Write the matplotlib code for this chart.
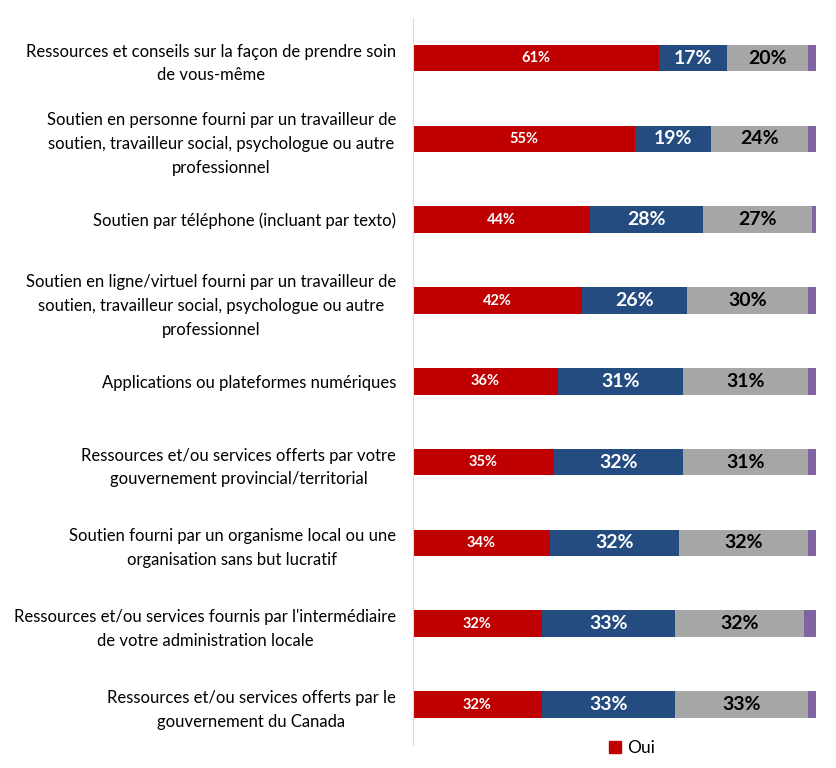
import numpy as np
import matplotlib
matplotlib.use("Agg")
import matplotlib.pyplot as plt
from matplotlib.patches import Patch

plt.rcParams['font.family'] = ['Lato', 'DejaVu Sans']

categories = [
    "Ressources et conseils sur la façon de prendre soin\nde vous-même",
    "Soutien en personne fourni par un travailleur de\nsoutien, travailleur social, psychologue ou autre\nprofessionnel",
    "Soutien par téléphone (incluant par texto)",
    "Soutien en ligne/virtuel fourni par un travailleur de\nsoutien, travailleur social, psychologue ou autre\nprofessionnel",
    "Applications ou plateformes numériques",
    "Ressources et/ou services offerts par votre\ngouvernement provincial/territorial",
    "Soutien fourni par un organisme local ou une\norganisation sans but lucratif",
    "Ressources et/ou services fournis par l'intermédiaire\nde votre administration locale",
    "Ressources et/ou services offerts par le\ngouvernement du Canada",
]
oui = [61, 55, 44, 42, 36, 35, 34, 32, 32]
serie2 = [17, 19, 28, 26, 31, 32, 32, 33, 33]
serie3 = [20, 24, 27, 30, 31, 31, 32, 32, 33]
serie4 = [2, 2, 1, 2, 2, 2, 2, 3, 2]

c_red = "#C00000"
c_blue = "#244C80"
c_gray = "#A6A6A6"
c_purple = "#8064A2"

fig = plt.figure(figsize=(8.37, 7.68), dpi=100)
ax = fig.add_axes([0.493, 0.03, 0.482, 0.947])

y = np.arange(len(categories))
h = 0.33
left = np.zeros(len(categories))
series = [(oui, c_red, "white", 10.5), (serie2, c_blue, "white", 14),
          (serie3, c_gray, "black", 14), (serie4, c_purple, None, 0)]
for vals, col, tcol, fs in series:
    vals = np.array(vals, dtype=float)
    ax.barh(y, vals, left=left, height=h, color=col)
    if tcol:
        for yi, l, v in zip(y, left, vals):
            ax.text(l + v / 2, yi, f"{int(v)}%", ha="center", va="center",
                    color=tcol, fontsize=fs, fontweight="bold")
    left += vals

ax.set_xlim(0, 100)
ax.set_ylim(8.5, -0.5)
ax.set_yticks(y)
ax.set_yticklabels(categories, fontsize=12, multialignment="center",
                   linespacing=1.6)
ax.tick_params(axis="y", length=0, pad=12)
ax.set_xticks([])
for s in ["top", "right", "bottom"]:
    ax.spines[s].set_visible(False)
ax.spines["left"].set_color("#D9D9D9")

fig.legend(handles=[Patch(color=c_red, label="Oui")], loc="center",
           bbox_to_anchor=(0.755, 0.026), frameon=False, fontsize=12.5,
           handlelength=0.7, handleheight=0.7, handletextpad=0.3)

fig.savefig("out.png", dpi=100)
